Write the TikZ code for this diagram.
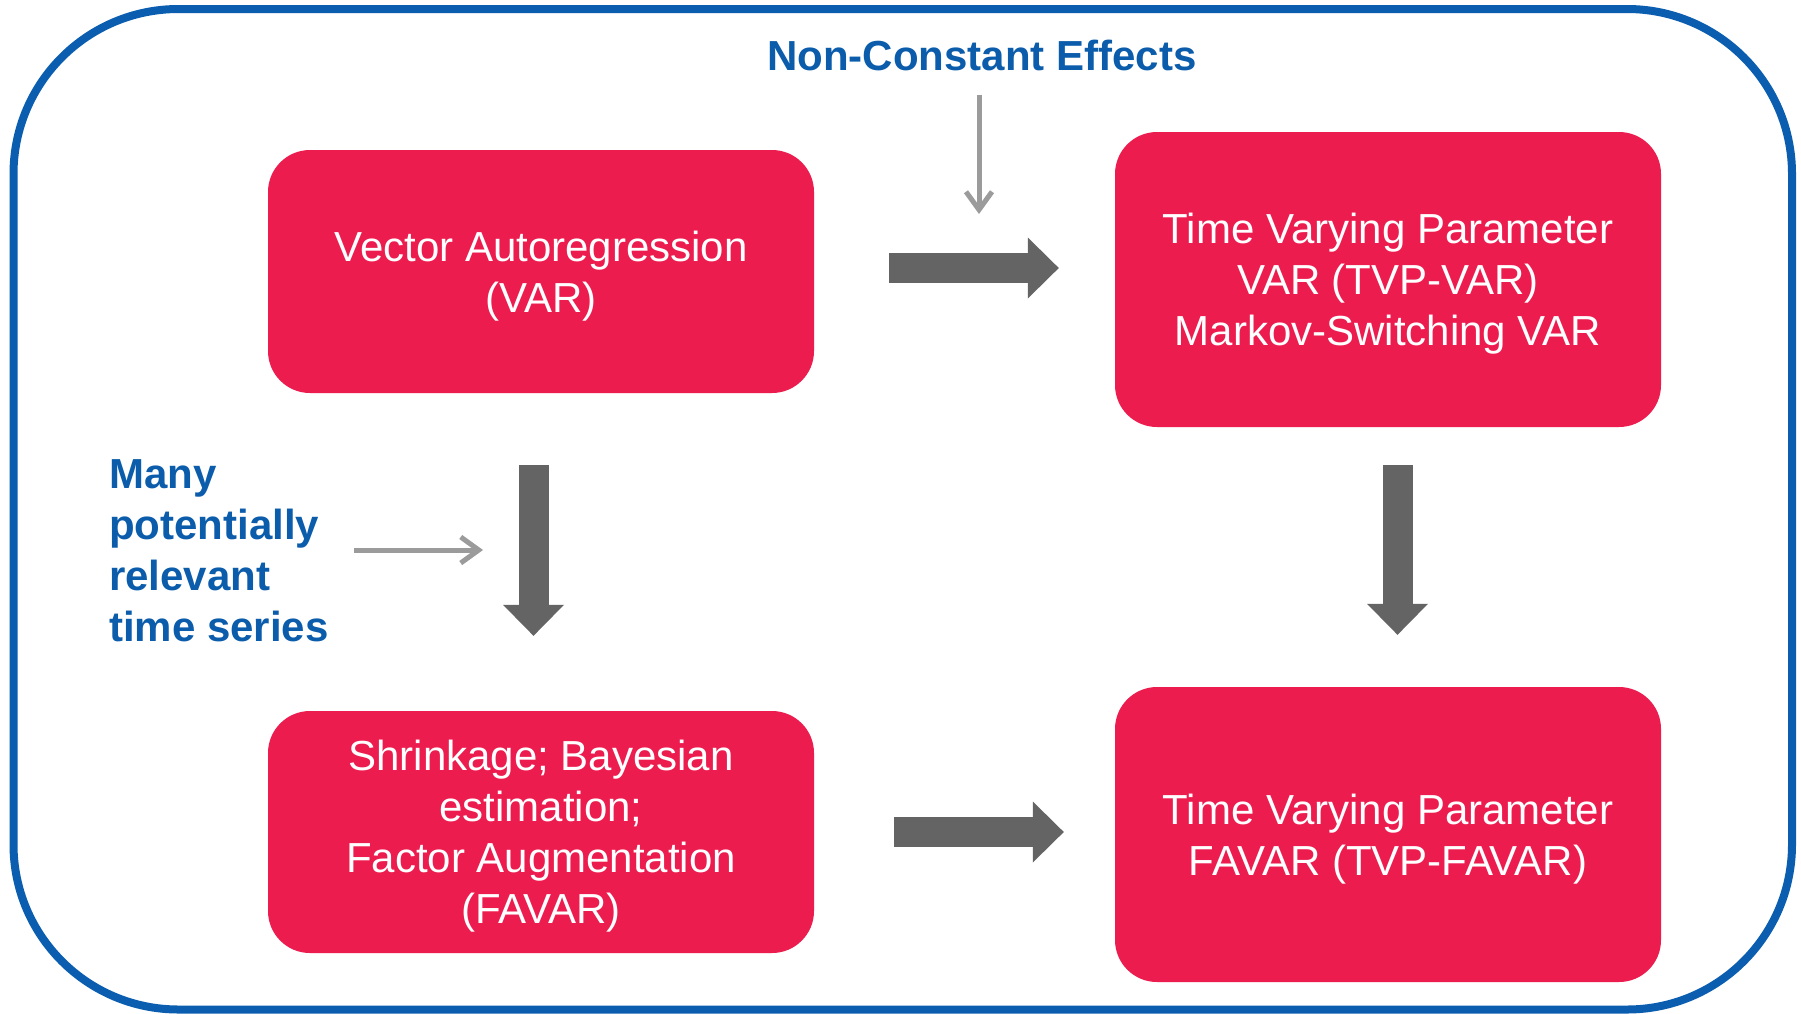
\documentclass[tikz,border=0pt]{standalone}
\usepackage{fontspec}
\setmainfont{Liberation Sans}
\usetikzlibrary{arrows.meta}
\definecolor{borderblue}{HTML}{0B5EAF}
\definecolor{textblue}{HTML}{0B5CAB}
\definecolor{boxred}{HTML}{ED1C4F}
\definecolor{arrowgray}{HTML}{646464}
\definecolor{lightgray}{HTML}{9B9B9B}
\begin{document}
\begin{tikzpicture}[x=1pt,y=-1pt,
  redbox/.style={fill=boxred, rounded corners=42pt, minimum width=546pt, inner sep=0pt, text=white, align=center, text depth=0pt, font=\fontsize{42}{51}\selectfont},
  bluelabel/.style={text=textblue, font=\fontsize{42}{51}\selectfont\bfseries, inner sep=0pt},
  bigarrow/.style={draw=arrowgray, line width=30pt, -{Triangle[length=31pt,width=61pt,line width=0pt]}},
  thinarrow/.style={draw=lightgray, line width=5pt, -{Straight Barb[length=18pt,width=26pt]}}
]
\useasboundingbox (0,0) rectangle (1801,1013);
\fill[white] (0,0) rectangle (1801,1013);
\draw[borderblue, line width=8pt, rounded corners=165pt] (13.5,9) rectangle (1792,1009.5);

\node[redbox, minimum height=243pt] (var) at (541,271.5) {Vector Autoregression\\(VAR)};
\node[redbox, minimum height=295pt] (tvp) at (1388,279.5) {Time Varying Parameter\\VAR (TVP-VAR)\\Markov-Switching VAR};
\node[redbox, minimum height=242pt] (shr) at (541,832) {Shrinkage; Bayesian\\estimation;\\Factor Augmentation\\(FAVAR)};
\node[redbox, minimum height=295pt] (tvf) at (1388,834.5) {Time Varying Parameter\\FAVAR (TVP-FAVAR)};

\node[bluelabel] (nce) at (982,55) {Non-Constant Effects};
\node[bluelabel, anchor=west, align=left] (many) at (109,551) {Many\\potentially\\relevant\\time series};

\coordinate (nceTip) at (979,214);
\coordinate (manyTip) at (483,550);
\draw[thinarrow, shorten <=24pt] (nce.south -| nceTip) -- (nceTip);
\draw[thinarrow, shorten <=25pt] (many.east |- manyTip) -- (manyTip);

\draw[bigarrow, shorten <=75pt, shorten >=56pt] ([yshift=3.5pt]var.east) -- ([yshift=3.5pt]var.east -| tvp.west);
\draw[bigarrow, shorten <=80pt, shorten >=51pt] (shr.east) -- (shr.east -| tvf.west);
\draw[bigarrow, shorten <=72pt, shorten >=75pt] ([xshift=-7.5pt]var.south) -- ([xshift=-7.5pt]shr.north);
\draw[bigarrow, shorten <=38pt, shorten >=52pt] ([xshift=9.5pt]tvp.south) -- ([xshift=9.5pt]tvf.north);
\end{tikzpicture}
\end{document}
